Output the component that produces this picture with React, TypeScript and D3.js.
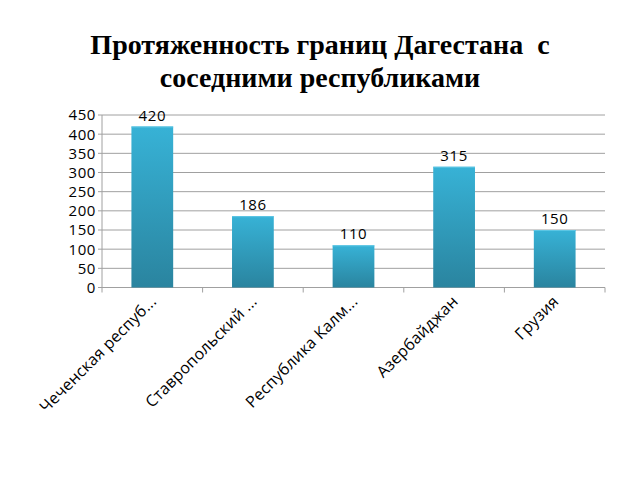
import React from "react";
import * as d3 from "d3";

const categories = ["Чеченская респуб...", "Ставропольский ...", "Республика Калм...", "Азербайджан", "Грузия"];
const values = [420, 186, 110, 315, 150];
const yTicks = [0, 50, 100, 150, 200, 250, 300, 350, 400, 450];
const titleLines = ["Протяженность границ Дагестана  с", "соседними республиками"];

export default function App() {
  const W = 640, H = 480;
  const left = 102, right = 605, top = 115, bottom = 287.5;
  const x = d3.scaleBand<string>().domain(categories).range([left, right]).paddingInner(0).paddingOuter(0);
  const y = d3.scaleLinear().domain([0, 450]).range([bottom, top]);
  const bw = x.bandwidth();
  const barW = bw * 0.415;
  const font = "'Open Sans', sans-serif";
  return (
    <svg width={W} height={H} style={{ position: "absolute", left: 0, top: 0, background: "#fff" }}>
      <defs>
        <linearGradient id="bg" x1="0" y1="0" x2="0" y2="1">
          <stop offset="0" stopColor="#37b2d6" />
          <stop offset="1" stopColor="#2a849f" />
        </linearGradient>
      </defs>
      {titleLines.map((t, i) => (
        <text key={i} x={320} y={54 + i * 33} textAnchor="middle" fontFamily="'Liberation Serif', 'Times New Roman', serif" fontWeight="bold" fontSize={28} fill="#000" style={{ whiteSpace: "pre" }}>{t}</text>
      ))}
      {yTicks.map((t) => (
        <g key={t}>
          <line x1={left - 4} x2={right} y1={y(t)} y2={y(t)} stroke="#a0a0a0" strokeWidth={1} />
          <text x={96} y={y(t)} dy="0.36em" textAnchor="end" fontFamily={font} fontSize={15} letterSpacing={0.6} fill="#000">{t}</text>
        </g>
      ))}
      <line x1={left} x2={left} y1={top} y2={bottom} stroke="#a0a0a0" />
      {categories.map((c, i) => (
        <line key={"t" + i} x1={x(c)!} x2={x(c)!} y1={bottom} y2={bottom + 5} stroke="#a0a0a0" />
      ))}
      <line x1={right} x2={right} y1={bottom} y2={bottom + 5} stroke="#a0a0a0" />
      {categories.map((c, i) => {
        const cx = x(c)! + bw / 2;
        return (
          <g key={c}>
            <rect x={cx - barW / 2} y={y(values[i])} width={barW} height={bottom - y(values[i])} fill="url(#bg)" />
            <line x1={cx - barW / 2} x2={cx + barW / 2} y1={y(values[i]) + 0.5} y2={y(values[i]) + 0.5} stroke="#5cc6e4" />
            <text x={cx} y={y(values[i]) - 6} textAnchor="middle" fontFamily={font} fontSize={15} letterSpacing={0.6} fill="#000">{values[i]}</text>
            <text transform={`translate(${cx + 5},${bottom + 15}) rotate(-45)`} textAnchor="end" fontFamily={font} fontSize={16} letterSpacing={0.2} fill="#000">{c}</text>
          </g>
        );
      })}
    </svg>
  );
}
